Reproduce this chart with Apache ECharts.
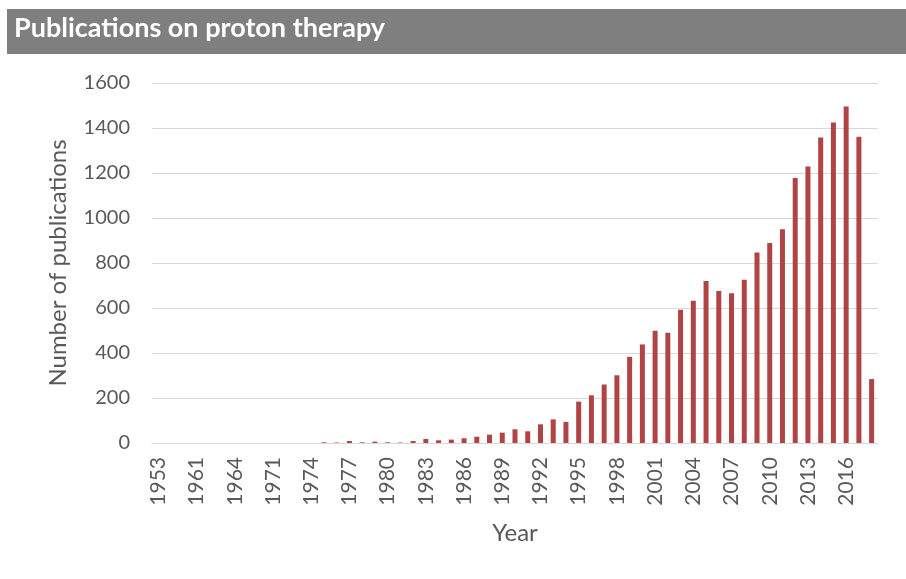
<!DOCTYPE html>
<html>
<head>
<meta charset="utf-8">
<script src="https://cdn.jsdelivr.net/npm/echarts@6/dist/echarts.min.js"></script>
<style>
html,body{margin:0;padding:0;background:#fff;}
#c{width:906px;height:579px;}
</style>
</head>
<body>
<div id="c"></div>
<script>
const titleText = "Publications on proton therapy";
const yAxisName = "Number of publications";
const xAxisName = "Year";
const years = ["1953","1957","1959","1961","1962","1963","1964","1966","1968","1971","1972","1973","1974",
  "1975","1976","1977","1978","1979","1980","1981","1982","1983","1984","1985","1986","1987","1988","1989",
  "1990","1991","1992","1993","1994","1995","1996","1997","1998","1999","2000","2001","2002","2003","2004",
  "2005","2006","2007","2008","2009","2010","2011","2012","2013","2014","2015","2016","2017","2018"];
const publications = [0,0,0,0,0,0,0,0,0,0,0,0,0,
  3,2,9,3,6,3,2,9,18,12,15,21,28,37,46,
  61,52,83,105,94,184,212,260,301,383,438,499,490,592,632,
  720,676,666,726,847,889,950,1178,1229,1358,1425,1496,1361,284];
const yTicks = {min:0, max:1600, interval:200};

const chart = echarts.init(document.getElementById('c'), null, {renderer:'canvas'});
const font = "Lato, 'Open Sans', sans-serif";
chart.setOption({
  animation:false,
  graphic:[
    {type:'rect', shape:{x:7,y:9,width:899,height:45}, style:{fill:'#7f7f7f'}, z:-1},
    {type:'text', left:14, top:15, style:{text:titleText, fill:'#ffffff', font:"bold 27px " + font}}
  ],
  grid:{left:152, right:28, top:83, bottom:136, containLabel:false},
  xAxis:{
    type:'category', data:years,
    name:xAxisName, nameLocation:'middle', nameGap:78,
    nameTextStyle:{fontFamily:font, fontSize:24, color:'#595959'},
    axisLine:{show:true, lineStyle:{color:'#d9d9d9', width:1}},
    axisTick:{show:false},
    axisLabel:{interval:2, rotate:90, fontFamily:font, fontSize:21, color:'#595959', margin:14},
  },
  yAxis:{
    type:'value', min:yTicks.min, max:yTicks.max, interval:yTicks.interval,
    name:yAxisName, nameLocation:'middle', nameGap:82,
    nameTextStyle:{fontFamily:font, fontSize:24, color:'#595959'},
    axisLine:{show:false}, axisTick:{show:false},
    axisLabel:{fontFamily:font, fontSize:20, color:'#595959', margin:22, formatter:(v)=>String(v)},
    splitLine:{lineStyle:{color:'#d9d9d9', width:1}}
  },
  series:[{
    type:'bar', data:publications, barWidth:5,
    itemStyle:{color:'#b04343'}
  }]
});
</script>
</body>
</html>
